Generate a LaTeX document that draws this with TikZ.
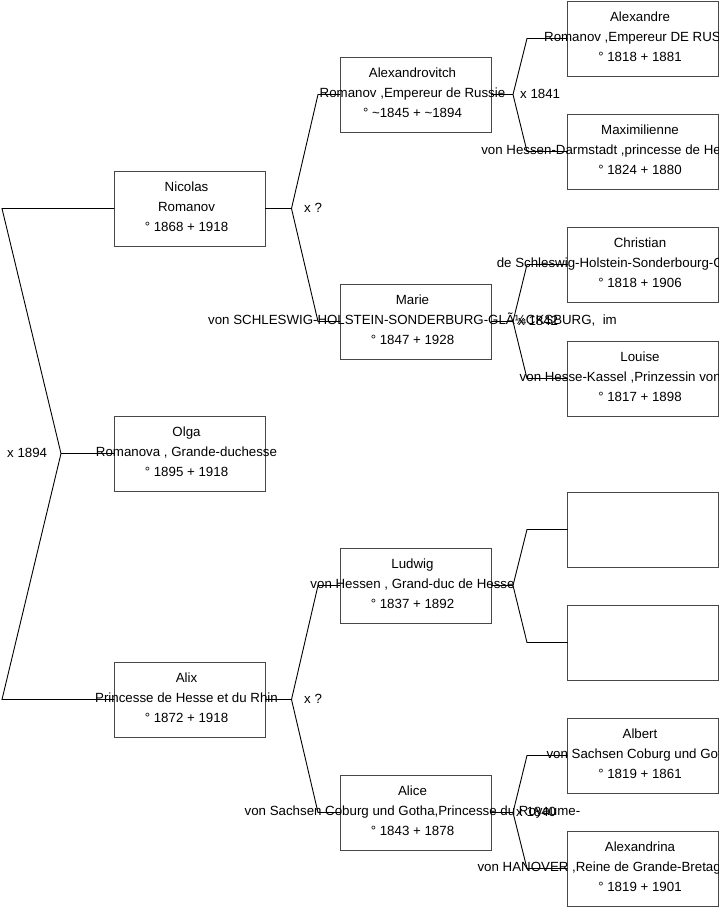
\documentclass[tikz,border=0pt]{standalone}
\usepackage{fontspec}
\setmainfont{Liberation Sans}
\usetikzlibrary{positioning,calc}
\tikzset{
  personbox/.style={draw=black!72, rectangle, line width=0.9pt, minimum width=151pt,
                    minimum height=75pt, inner sep=0pt, outer sep=0pt, anchor=north west},
  % base of a multi-line node sits on its last line
  persontext/.style={anchor=base, align=center, inner sep=0pt,
                     font=\fontsize{13.3}{20}\selectfont},
  cutline/.style={anchor=base east, inner sep=0pt, font=\fontsize{13.3}{20}\selectfont},
  spouselabel/.style={anchor=base west, inner sep=0pt, font=\fontsize{13.3}{20}\selectfont},
  link/.style={draw=black, line width=0.9pt},
}

\begin{document}
\begin{tikzpicture}[x=1pt, y=-1pt]
\useasboundingbox[fill=white] (0,0) rectangle (719,908);
\clip (0,0) rectangle (719,908);

% ============================ generation 1 ============================
\node[personbox] (nicolas) at (114,171) {};
\node[persontext] (nicolastxt) at ($(nicolas.north)+(-3,60.5)$)
  {Nicolas\\Romanov\\° 1868 + 1918};
\node[personbox] (olga) at (114,416) {};
\node[persontext] (olgatxt) at ($(olga.north)+(-3,60.5)$)
  {Olga\\Romanova , Grande-duchesse\\° 1895 + 1918};
\node[personbox] (alix) at (114,662) {};
\node[persontext] (alixtxt) at ($(alix.north)+(-3,60.5)$)
  {Alix\\Princesse de Hesse et du Rhin\\° 1872 + 1918};

% ============================ generation 2 ============================
\node[personbox] (alexandrovitch) at (340,57) {};
\node[persontext] (alexandrovitchtxt) at ($(alexandrovitch.north)+(-3,60.5)$)
  {Alexandrovitch\\Romanov ,Empereur de Russie\\° \textasciitilde1845 + \textasciitilde1894};
\node[personbox] (marie) at (340,284) {};
\node[persontext] (marietxt) at ($(marie.north)+(-3,60.5)$)
  {Marie\\von SCHLESWIG-HOLSTEIN-SONDERBURG-GLÃ¼CKSBURG,\ \ im\\° 1847 + 1928};
\node[personbox] (ludwig) at (340,548) {};
\node[persontext] (ludwigtxt) at ($(ludwig.north)+(-3,60.5)$)
  {Ludwig\\von Hessen , Grand-duc de Hesse\\° 1837 + 1892};
\node[personbox] (alice) at (340,775) {};
\node[persontext] (alicetxt) at ($(alice.north)+(-3,60.5)$)
  {Alice\\von Sachsen Coburg und Gotha,Princesse du Royaume-\\° 1843 + 1878};

% ============================ generation 3 ============================
% second lines run past the right edge of the page
\node[personbox] (alexandre) at (567.5,1) {};
\node[persontext] (alexandretxt) at ($(alexandre.north)+(-3,60.5)$)
  {Alexandre\\\mbox{}\\° 1818 + 1881};
\node[cutline] (alexandrecut) at (721,41.5) {Romanov ,Empereur DE RUS};
\node[personbox] (maximilienne) at (567.5,114) {};
\node[persontext] (maximiliennetxt) at ($(maximilienne.north)+(-3,60.5)$)
  {Maximilienne\\\mbox{}\\° 1824 + 1880};
\node[cutline] (maximiliennecut) at (721,154.5) {von Hessen-Darmstadt ,princesse de He};
\node[personbox] (christian) at (567.5,227) {};
\node[persontext] (christiantxt) at ($(christian.north)+(-3,60.5)$)
  {Christian\\\mbox{}\\° 1818 + 1906};
\node[cutline] (christiancut) at (724,267.5) {de Schleswig-Holstein-Sonderbourg-G};
\node[personbox] (louise) at (567.5,341) {};
\node[persontext] (louisetxt) at ($(louise.north)+(-3,60.5)$)
  {Louise\\\mbox{}\\° 1817 + 1898};
\node[cutline] (louisecut) at (721,381.5) {von Hesse-Kassel ,Prinzessin von};
\node[personbox] (unknownA) at (567.5,492) {};
\node[personbox] (unknownB) at (567.5,605) {};
\node[personbox] (albert) at (567.5,718) {};
\node[persontext] (alberttxt) at ($(albert.north)+(-3,60.5)$)
  {Albert\\\mbox{}\\° 1819 + 1861};
\node[cutline] (albertcut) at (722,758.5) {von Sachsen Coburg und Got};
\node[personbox] (alexandrina) at (567.5,831) {};
\node[persontext] (alexandrinatxt) at ($(alexandrina.north)+(-3,60.5)$)
  {Alexandrina\\\mbox{}\\° 1819 + 1901};
\node[cutline] (alexandrinacut) at (721,871.5) {von HANOVER ,Reine de Grande-Bretag};

% ============================ marriages ===============================
\coordinate (olgafork) at ($(olga.west)+(-53,0)$);
\draw[link] (olga.west) -- (olgafork);
\draw[link] (olgafork) -- ($(olgafork |- nicolas.west)+(-59,0)$) -- (nicolas.west);
\draw[link] (olgafork) -- ($(olgafork |- alix.west)+(-59,0)$) -- (alix.west);
\node[spouselabel] (olgamarriage) at ($(olgafork)+(-54,4)$) {x 1894};

\coordinate (nicolasfork) at ($(nicolas.east)+(26.5,0)$);
\draw[link] (nicolas.east) -- (nicolasfork);
\draw[link] (nicolasfork) -- ($(nicolasfork |- alexandrovitch.west)+(26.5,0)$) -- (alexandrovitch.west);
\draw[link] (nicolasfork) -- ($(nicolasfork |- marie.west)+(26.5,0)$) -- (marie.west);
\node[spouselabel] (nicolasmarriage) at ($(nicolasfork)+(12.5,4)$) {x ?};

\coordinate (alixfork) at ($(alix.east)+(26.5,0)$);
\draw[link] (alix.east) -- (alixfork);
\draw[link] (alixfork) -- ($(alixfork |- ludwig.west)+(26.5,0)$) -- (ludwig.west);
\draw[link] (alixfork) -- ($(alixfork |- alice.west)+(26.5,0)$) -- (alice.west);
\node[spouselabel] (alixmarriage) at ($(alixfork)+(12.5,4)$) {x ?};

\coordinate (alexandrovitchfork) at ($(alexandrovitch.east)+(22,0)$);
\draw[link] (alexandrovitch.east) -- (alexandrovitchfork);
\draw[link] (alexandrovitchfork) -- ($(alexandrovitchfork |- alexandre.west)+(14,0)$) -- (alexandre.west);
\draw[link] (alexandrovitchfork) -- ($(alexandrovitchfork |- maximilienne.west)+(14,0)$) -- (maximilienne.west);
\node[spouselabel] (alexandrovitchmarriage) at ($(alexandrovitchfork)+(7,4)$) {x 1841};

\coordinate (mariefork) at ($(marie.east)+(22,0)$);
\draw[link] (marie.east) -- (mariefork);
\draw[link] (mariefork) -- ($(mariefork |- christian.west)+(14,0)$) -- (christian.west);
\draw[link] (mariefork) -- ($(mariefork |- louise.west)+(14,0)$) -- (louise.west);
\node[spouselabel] (mariemarriage) at ($(mariefork)+(5,4)$) {x 1842};

\coordinate (ludwigfork) at ($(ludwig.east)+(22,0)$);
\draw[link] (ludwig.east) -- (ludwigfork);
\draw[link] (ludwigfork) -- ($(ludwigfork |- unknownA.west)+(14,0)$) -- (unknownA.west);
\draw[link] (ludwigfork) -- ($(ludwigfork |- unknownB.west)+(14,0)$) -- (unknownB.west);

\coordinate (alicefork) at ($(alice.east)+(22,0)$);
\draw[link] (alice.east) -- (alicefork);
\draw[link] (alicefork) -- ($(alicefork |- albert.west)+(14,0)$) -- (albert.west);
\draw[link] (alicefork) -- ($(alicefork |- alexandrina.west)+(14,0)$) -- (alexandrina.west);
\node[spouselabel] (alicemarriage) at ($(alicefork)+(3,4)$) {x 1840};

\end{tikzpicture}
\end{document}
